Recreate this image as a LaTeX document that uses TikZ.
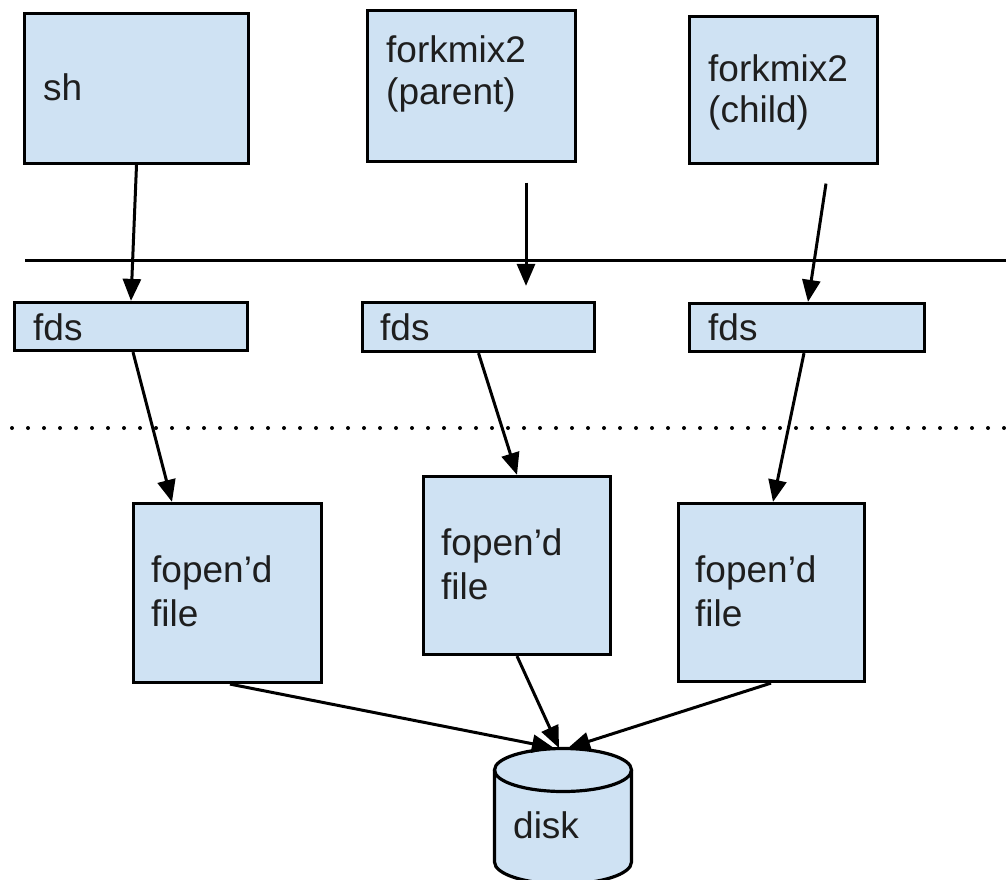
\documentclass[tikz,border=0pt]{standalone}
\usepackage{fontspec}
\setmainfont{Liberation Sans}
\usetikzlibrary{arrows.meta}
\definecolor{boxfill}{HTML}{CFE2F3}
\definecolor{txt}{HTML}{1E1E1E}
\begin{document}
\begin{tikzpicture}[x=1pt,y=-1pt,
  box/.style={draw=black, fill=boxfill, line width=3.2pt, inner sep=0pt, rectangle},
  lbl/.style={anchor=base west, inner sep=0pt, text=txt, font=\fontsize{37}{42}\selectfont},
  conn/.style={line width=3pt, -{Triangle[length=22pt,width=18pt]}}]
\clip (0,0) rectangle (1006,880);
\fill[white] (0,0) rectangle (1006,880);

% separators
\coordinate (solidL) at (25,260);
\coordinate (solidR) at (1006,260);
\draw[line width=3pt] (solidL) -- (solidR);
\coordinate (dotL) at (12,428);
\coordinate (dotR) at (1010,428);
\draw[line width=4pt, line cap=round, dash pattern=on 0pt off 16pt] (dotL) -- (dotR);

% top boxes
\node[box, minimum width=224pt, minimum height=150pt] (sh) at (136.5,88.5) {};
\node[box, minimum width=208pt, minimum height=151pt] (parent) at (471.5,86) {};
\node[box, minimum width=188pt, minimum height=147pt] (child) at (783.5,90) {};

% fds boxes
\node[box, minimum width=233pt, minimum height=48pt] (fds1) at (131,326.5) {};
\node[box, minimum width=232pt, minimum height=49pt] (fds2) at (478.5,327) {};
\node[box, minimum width=235pt, minimum height=48pt] (fds3) at (807,327.5) {};

% fopen'd boxes
\node[box, minimum width=188pt, minimum height=179pt] (fopen1) at (227.5,593) {};
\node[box, minimum width=187pt, minimum height=178pt] (fopen2) at (517,565.5) {};
\node[box, minimum width=186pt, minimum height=178pt] (fopen3) at (771.5,592.5) {};

% disk cylinder
\fill[boxfill] (494.5,770) -- (494.5,862) arc[start angle=180, end angle=0, x radius=68.5, y radius=22] -- (631.5,770) arc[start angle=0, end angle=-180, x radius=68.5, y radius=21.5] -- cycle;
\draw[line width=3.2pt] (494.5,770) -- (494.5,862) arc[start angle=180, end angle=0, x radius=68.5, y radius=22] -- (631.5,770);
\draw[line width=3.2pt] (563,770) ellipse[x radius=68.5, y radius=21.5];
\node[inner sep=0pt, minimum width=140pt, minimum height=44pt] (disk) at (563,770) {};

% labels
\node[lbl] (sh-t) at (43,101) {sh};
\node[lbl] (par-t1) at (386,63) {forkmix2};
\node[lbl] (par-t2) at (386,105) {(parent)};
\node[lbl] (chi-t1) at (708,82) {forkmix2};
\node[lbl] (chi-t2) at (708,123) {(child)};
\node[lbl] (fds1-t) at (33,340) {fds};
\node[lbl] (fds2-t) at (380,340) {fds};
\node[lbl] (fds3-t) at (708,340) {fds};
\node[lbl] (fo1-t1) at (151,582) {fopen’d};
\node[lbl] (fo1-t2) at (151,626) {file};
\node[lbl] (fo2-t1) at (441,555) {fopen’d};
\node[lbl] (fo2-t2) at (441,599) {file};
\node[lbl] (fo3-t1) at (695,582) {fopen’d};
\node[lbl] (fo3-t2) at (695,626) {file};
\node[lbl] (disk-t) at (513,838) {disk};

% connectors
\draw[conn] (sh.south) -- (fds1.north);
\draw[conn] ([xshift=54.5pt, yshift=-19.5pt]parent.south) -- ([xshift=47.5pt, yshift=15pt]fds2.north);
\draw[conn] ([xshift=42.5pt, yshift=-18.5pt]child.south) -- ([xshift=1pt]fds3.north);

\draw[conn] ([xshift=2pt]fds1.south) -- ([xshift=-55.5pt]fopen1.north);
\draw[conn] (fds2.south) -- (fopen2.north);
\draw[conn] ([xshift=-3pt]fds3.south) -- ([xshift=1.5pt]fopen3.north);

\draw[conn] ([xshift=2.5pt]fopen1.south) -- ([xshift=-9pt, yshift=22pt]disk.center);
\draw[conn] (fopen2.south) -- ([xshift=-4pt, yshift=22pt]disk.center);
\draw[conn] ([xshift=-0.5pt]fopen3.south) -- ([xshift=5pt, yshift=22pt]disk.center);
\end{tikzpicture}
\end{document}
